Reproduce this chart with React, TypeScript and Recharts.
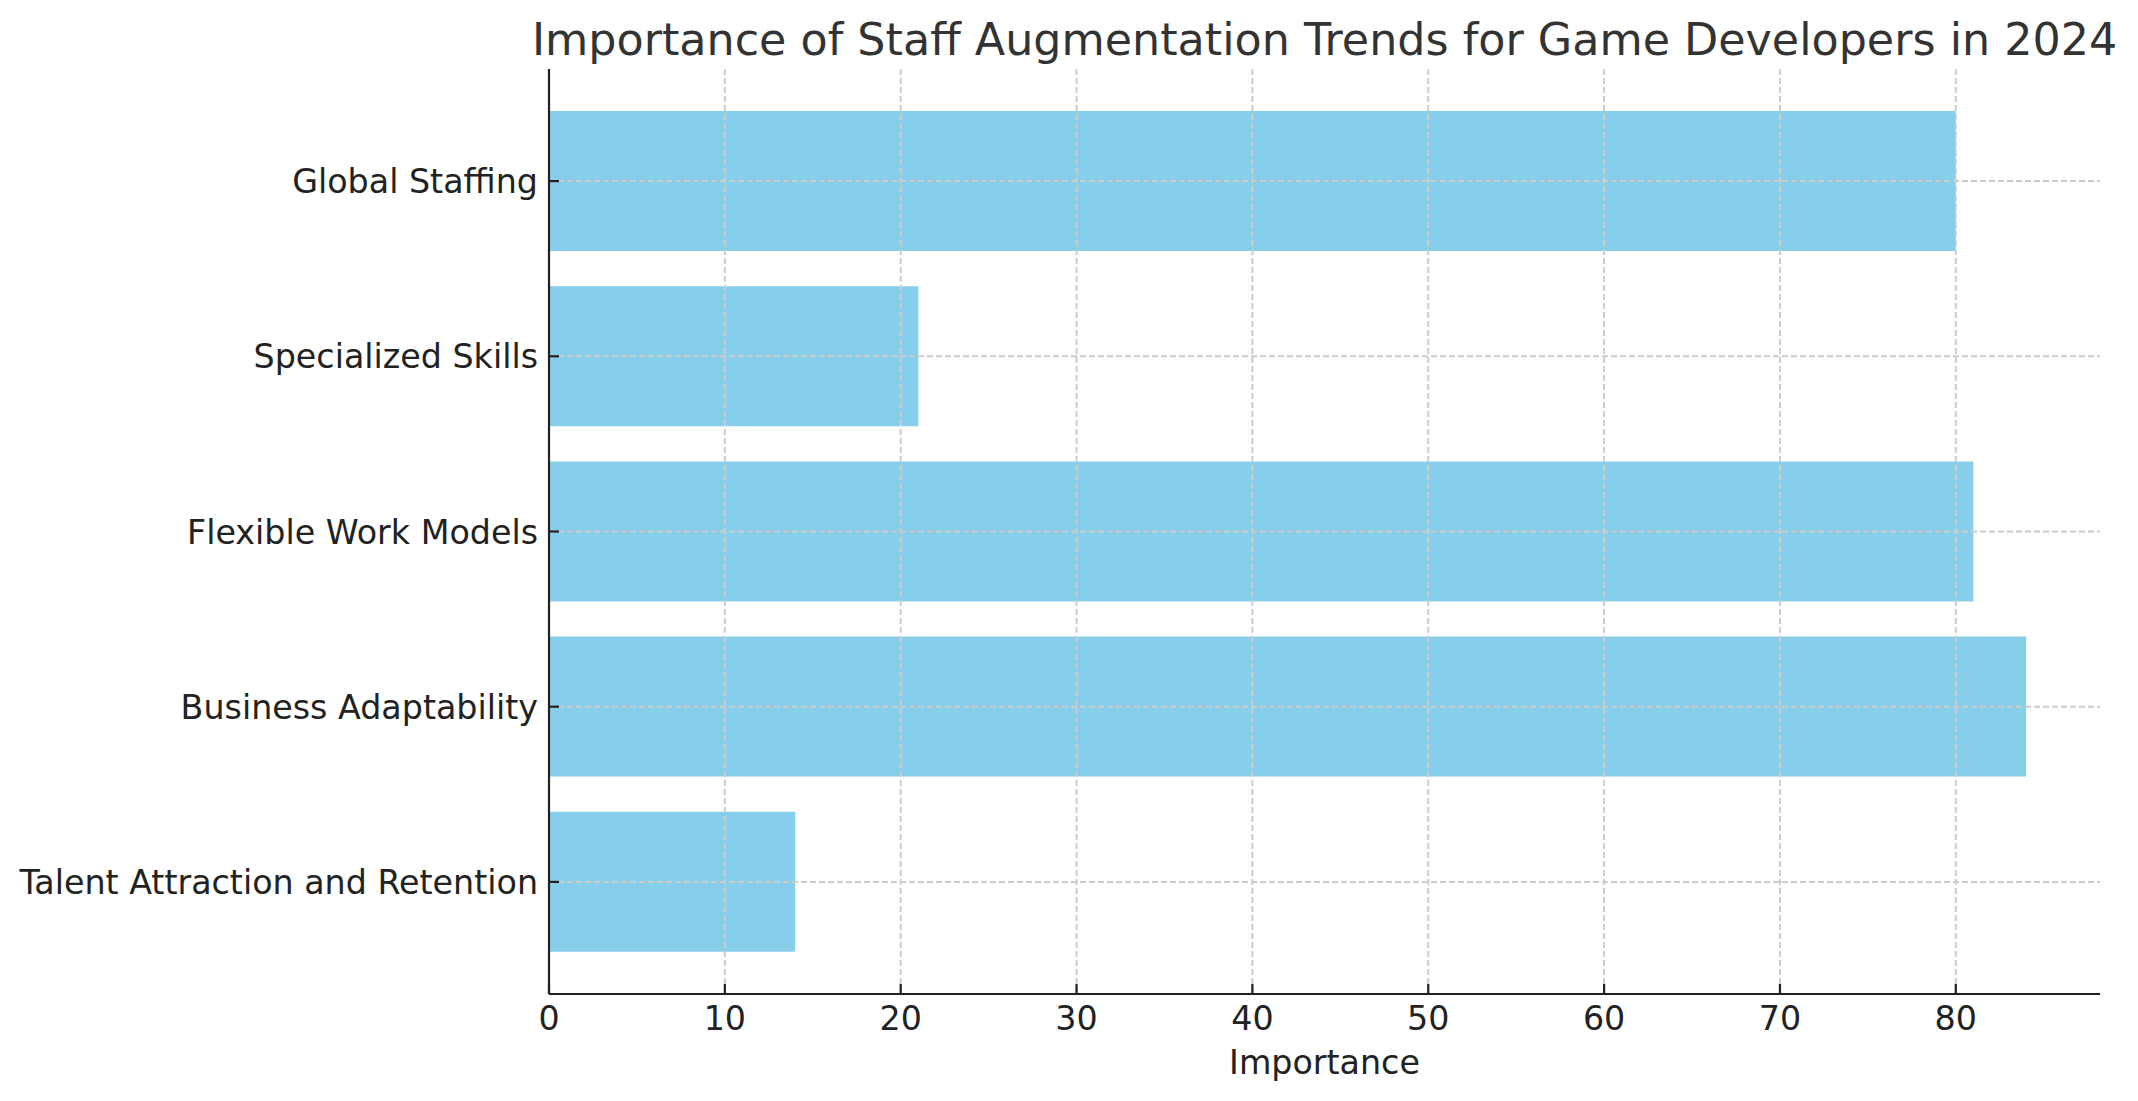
import { Bar, BarChart, CartesianGrid, XAxis, YAxis } from "recharts";

const categories = [
  "Global Staffing",
  "Specialized Skills",
  "Flexible Work Models",
  "Business Adaptability",
  "Talent Attraction and Retention",
];
const importance = [80, 21, 81, 84, 14];
const xTicks = [0, 10, 20, 30, 40, 50, 60, 70, 80];

const title = "Importance of Staff Augmentation Trends for Game Developers in 2024";

const data = categories.map((c, i) => ({ trend: c, importance: importance[i] }));

const FONT = "'DejaVu Sans', sans-serif";
const INK = "#222222";

const XTick = (props: any) => {
  const { x, y, payload } = props;
  return (
    <g>
      <line x1={x} x2={x} y1={y} y2={y - 10} stroke={INK} strokeWidth={2.2} />
      <text x={x} y={y + 36} textAnchor="middle" fontSize={33.3} fontFamily={FONT} fill={INK}>
        {payload.value}
      </text>
    </g>
  );
};

const YTick = (props: any) => {
  const { x, y, payload } = props;
  return (
    <g>
      <line x1={x} x2={x + 10} y1={y} y2={y} stroke={INK} strokeWidth={2.2} />
      <text x={x - 11} y={y + 12} textAnchor="end" fontSize={33.3} fontFamily={FONT} fill={INK}>
        {payload.value}
      </text>
    </g>
  );
};

const XLabel = (props: any) => {
  const vb = props.viewBox;
  return (
    <text
      x={vb.x + vb.width / 2}
      y={vb.y + 80}
      textAnchor="middle"
      fontSize={33.3}
      fontFamily={FONT}
      fill={INK}
    >
      Importance
    </text>
  );
};

function App() {
  return (
    <div style={{ position: "relative", width: 2130, height: 1093 }}>
      <BarChart
        width={2130}
        height={1093}
        data={data}
        layout="vertical"
        barCategoryGap="10%"
        margin={{ top: 61, right: 38, bottom: 0, left: 0 }}
      >
        <Bar dataKey="importance" fill="#87CEEB" isAnimationActive={false} />
        {/* grid sits above the bars but below the spines, as in the source */}
        <CartesianGrid
          stroke="#cccccc"
          strokeWidth={2}
          strokeDasharray="6 3"
          syncWithTicks
          zIndex={450}
        />
        <XAxis
          type="number"
          domain={[0, 88.2]}
          ticks={xTicks}
          height={107}
          tickSize={0}
          tickMargin={0}
          tick={<XTick />}
          axisLine={{ stroke: INK, strokeWidth: 2.2 }}
          label={<XLabel />}
        />
        <YAxis
          type="category"
          dataKey="trend"
          width={541}
          padding={{ top: 24.5, bottom: 24.5 }}
          tickSize={0}
          tickMargin={0}
          tick={<YTick />}
          interval={0}
          axisLine={{ stroke: INK, strokeWidth: 2.2 }}
        />
      </BarChart>
      <svg
        width={2130}
        height={80}
        style={{ position: "absolute", left: 0, top: 0, pointerEvents: "none" }}
      >
        <text x={1316.6} y={47} textAnchor="middle" fontSize={44.4} fontFamily={FONT} fill="#333333">
          {title}
        </text>
      </svg>
    </div>
  );
}

export default App;
